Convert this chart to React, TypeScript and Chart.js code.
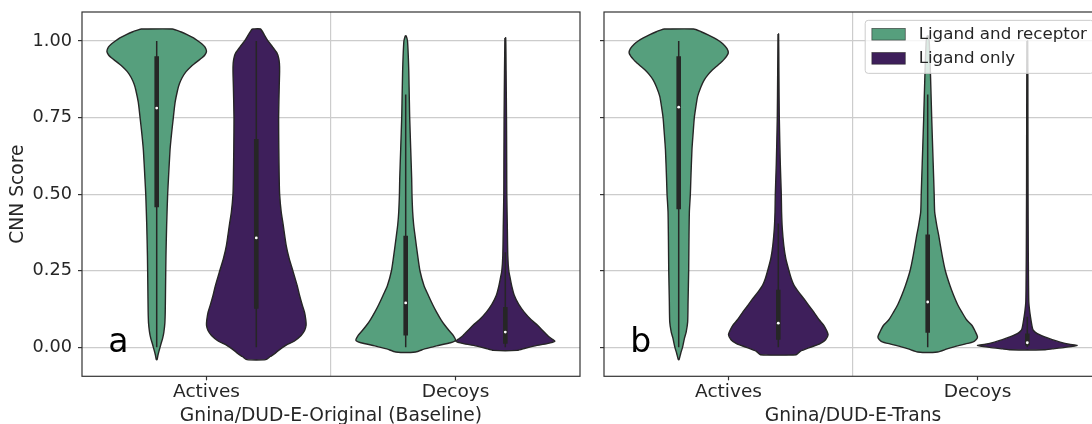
import React, { useEffect, useRef } from 'react';
import { Chart, registerables } from 'chart.js';

Chart.register(...registerables);

// ---------------- data ----------------
const CATEGORIES = ['Actives', 'Decoys'];
const SERIES = ['Ligand and receptor', 'Ligand only'];
const PANEL_TITLES = ['Gnina/DUD-E-Original (Baseline)', 'Gnina/DUD-E-Trans'];
const PANEL_LETTERS = ['a', 'b'];
const Y_TITLE = 'CNN Score';
const Y_TICKS = [0, 0.25, 0.5, 0.75, 1.0];
const Y_MIN = -0.0945;
const Y_MAX = 1.0945;

// violin density profiles: [CNN score, relative density (1 = widest)]
const ORIG_ACT_REC = [
  [1.039, 0.316], [1.03, 0.48], [1.02, 0.62], [1.01, 0.74], [1.0, 0.83], [0.99, 0.91],
  [0.98, 0.97], [0.966, 1.0], [0.955, 0.97], [0.945, 0.91], [0.935, 0.83], [0.925, 0.75],
  [0.915, 0.68], [0.9, 0.59], [0.88, 0.51], [0.86, 0.456], [0.84, 0.42], [0.8, 0.37],
  [0.75, 0.334], [0.7, 0.3], [0.645, 0.268], [0.55, 0.236], [0.5, 0.22], [0.4, 0.2],
  [0.3, 0.186], [0.2, 0.178], [0.12, 0.172], [0.08, 0.164], [0.05, 0.144], [0.03, 0.12],
  [0.01, 0.084], [-0.01, 0.05], [-0.025, 0.026], [-0.04, 0.008],
];
const ORIG_ACT_LIG = [
  [1.039, 0.084], [1.02, 0.16], [1.0, 0.234], [0.98, 0.33], [0.961, 0.414], [0.945, 0.448],
  [0.928, 0.464], [0.9, 0.468], [0.85, 0.46], [0.75, 0.448], [0.65, 0.452], [0.55, 0.46],
  [0.5, 0.468], [0.442, 0.5], [0.4, 0.54], [0.333, 0.6], [0.29, 0.66], [0.25, 0.734],
  [0.2, 0.824], [0.17, 0.868], [0.14, 0.92], [0.115, 0.968], [0.09, 0.994], [0.072, 1.0],
  [0.055, 0.97], [0.039, 0.9], [0.02, 0.76], [0.007, 0.6], [-0.01, 0.448], [-0.021, 0.368],
  [-0.03, 0.28], [-0.04, 0.19],
];
const ORIG_DEC_REC = [
  [1.017, 0.008], [1.0, 0.036], [0.95, 0.052], [0.9, 0.062], [0.8, 0.074], [0.75, 0.08],
  [0.65, 0.1], [0.55, 0.12], [0.5, 0.126], [0.442, 0.14], [0.4, 0.16], [0.366, 0.186],
  [0.3, 0.24], [0.25, 0.286], [0.2, 0.37], [0.17, 0.454], [0.14, 0.54], [0.115, 0.62],
  [0.09, 0.71], [0.072, 0.786], [0.055, 0.87], [0.039, 0.954], [0.023, 1.0], [0.015, 0.9],
  [0.005, 0.62], [-0.005, 0.38], [-0.015, 0.2],
];
const ORIG_DEC_LIG = [
  [1.01, 0.008], [0.9, 0.016], [0.75, 0.024], [0.6, 0.028], [0.5, 0.03], [0.4, 0.04],
  [0.3, 0.05], [0.25, 0.07], [0.224, 0.1], [0.2, 0.13], [0.17, 0.18], [0.14, 0.27],
  [0.115, 0.38], [0.09, 0.52], [0.072, 0.648], [0.055, 0.75], [0.039, 0.848], [0.028, 0.93],
  [0.02, 0.994], [0.012, 0.84], [0.005, 0.6], [-0.003, 0.4], [-0.01, 0.24],
];
const TRANS_ACT_REC = [
  [1.039, 0.3], [1.03, 0.45], [1.02, 0.59], [1.01, 0.71], [1.0, 0.814], [0.99, 0.89],
  [0.975, 0.97], [0.961, 0.996], [0.95, 0.96], [0.94, 0.91], [0.933, 0.87], [0.92, 0.78],
  [0.906, 0.68], [0.89, 0.59], [0.873, 0.514], [0.85, 0.446], [0.819, 0.38], [0.78, 0.34],
  [0.75, 0.314], [0.7, 0.29], [0.645, 0.266], [0.55, 0.244], [0.5, 0.234], [0.442, 0.214],
  [0.35, 0.206], [0.25, 0.2], [0.15, 0.188], [0.083, 0.18], [0.05, 0.15], [0.03, 0.116],
  [0.01, 0.09], [0.0, 0.076], [-0.02, 0.04], [-0.04, 0.008],
];
const TRANS_ACT_LIG = [
  [1.023, 0.006], [0.9, 0.012], [0.75, 0.02], [0.6, 0.04], [0.5, 0.06], [0.442, 0.066],
  [0.388, 0.08], [0.333, 0.11], [0.29, 0.15], [0.25, 0.214], [0.225, 0.26], [0.203, 0.314],
  [0.18, 0.41], [0.159, 0.514], [0.135, 0.62], [0.115, 0.714], [0.09, 0.82], [0.072, 0.914],
  [0.055, 0.97], [0.041, 1.0], [0.025, 0.95], [0.012, 0.84], [0.0, 0.64], [-0.013, 0.44],
  [-0.024, 0.36],
];
const TRANS_DEC_REC = [
  [1.017, 0.008], [1.0, 0.03], [0.9, 0.054], [0.75, 0.08], [0.6, 0.11], [0.5, 0.13],
  [0.442, 0.14], [0.4, 0.18], [0.366, 0.22], [0.3, 0.29], [0.25, 0.354], [0.2, 0.45],
  [0.17, 0.52], [0.14, 0.6], [0.115, 0.686], [0.09, 0.78], [0.072, 0.886], [0.05, 0.96],
  [0.034, 1.0], [0.025, 0.97], [0.017, 0.9], [0.005, 0.6], [-0.005, 0.39], [-0.015, 0.2],
];
const TRANS_DEC_LIG = [
  [1.0, 0.008], [0.75, 0.012], [0.5, 0.015], [0.3, 0.02], [0.2, 0.025], [0.148, 0.03],
  [0.115, 0.05], [0.083, 0.08], [0.065, 0.1], [0.056, 0.12], [0.045, 0.2], [0.034, 0.35],
  [0.025, 0.5], [0.017, 0.66], [0.01, 0.84], [0.006, 1.0], [0.0, 0.76], [-0.005, 0.5],
  [-0.008, 0.34],
];

// inner box stats: [whisker low, q1, median, q3, whisker high]
const ORIG_ACT_REC_BOX = [0, 0.457, 0.781, 0.95, 1.0];
const ORIG_ACT_LIG_BOX = [0, 0.126, 0.357, 0.68, 1.0];
const ORIG_DEC_REC_BOX = [0, 0.039, 0.145, 0.364, 0.825];
const ORIG_DEC_LIG_BOX = [0, 0.012, 0.05, 0.132, 0.31];
const TRANS_ACT_REC_BOX = [0, 0.451, 0.784, 0.95, 1.0];
const TRANS_ACT_LIG_BOX = [0, 0.025, 0.079, 0.188, 0.404];
const TRANS_DEC_REC_BOX = [0, 0.048, 0.148, 0.368, 0.825];
const TRANS_DEC_LIG_BOX = [0, 0.006, 0.015, 0.045, 0.1];

// ---------------- style ----------------
const FAMILY = '"DejaVu Sans", "Liberation Sans", sans-serif';
const TEXT_COLOR = '#262626';
const EDGE_COLOR = '#262626';
const SERIES_COLORS = ['#569f7d', '#3e1f5b'];
const GRID_COLOR = '#cccccc';
const SPINE_COLOR = '#333333';
const CANVAS_H = 440;
const PLOT_TOP = 12;
const PLOT_BOTTOM = 376.3;
const HUE_OFFSET = 0.2;
const HALF_WIDTH = 0.2;

const PANELS = [
  {
    title: PANEL_TITLES[0], letter: PANEL_LETTERS[0], left: 0, width: 600, yWidth: 82, padRight: 20,
    showYLabels: true, legend: false,
    violins: [
      { cat: 0, hue: 0, profile: ORIG_ACT_REC, box: ORIG_ACT_REC_BOX },
      { cat: 0, hue: 1, profile: ORIG_ACT_LIG, box: ORIG_ACT_LIG_BOX },
      { cat: 1, hue: 0, profile: ORIG_DEC_REC, box: ORIG_DEC_REC_BOX },
      { cat: 1, hue: 1, profile: ORIG_DEC_LIG, box: ORIG_DEC_LIG_BOX },
    ],
  },
  {
    title: PANEL_TITLES[1], letter: PANEL_LETTERS[1], left: 600, width: 520, yWidth: 4, padRight: 18,
    showYLabels: false, legend: true,
    violins: [
      { cat: 0, hue: 0, profile: TRANS_ACT_REC, box: TRANS_ACT_REC_BOX },
      { cat: 0, hue: 1, profile: TRANS_ACT_LIG, box: TRANS_ACT_LIG_BOX },
      { cat: 1, hue: 0, profile: TRANS_DEC_REC, box: TRANS_DEC_REC_BOX },
      { cat: 1, hue: 1, profile: TRANS_DEC_LIG, box: TRANS_DEC_LIG_BOX },
    ],
  },
];

function buildDatasets(violins: any[]) {
  const ds: any[] = [];
  violins.forEach((v) => {
    const c = v.cat + (v.hue === 0 ? -HUE_OFFSET : HUE_OFFSET);
    const leftSide = v.profile.map(([y, d]: number[]) => ({ x: c - d * HALF_WIDTH, y }));
    const rightSide = [...v.profile].reverse().map(([y, d]: number[]) => ({ x: c + d * HALF_WIDTH, y }));
    const outline = [...leftSide, ...rightSide, leftSide[0]];
    const [lo, q1, med, q3, hi] = v.box;
    ds.push({
      data: outline, order: 3, borderColor: EDGE_COLOR, borderWidth: 1.4,
      backgroundColor: SERIES_COLORS[v.hue], fill: 'shape', pointRadius: 0,
      tension: 0.2, borderJoinStyle: 'round',
    });
    ds.push({
      data: [{ x: c, y: lo }, { x: c, y: hi }], order: 2, borderColor: EDGE_COLOR,
      borderWidth: 1.5, pointRadius: 0, fill: false, tension: 0,
    });
    ds.push({
      data: [{ x: c, y: q1 }, { x: c, y: q3 }], order: 1, borderColor: EDGE_COLOR,
      borderWidth: 4.6, pointRadius: 0, fill: false, tension: 0, borderCapStyle: 'butt',
    });
    ds.push({
      data: [{ x: c, y: med }], order: 0, showLine: false, pointRadius: 1.4,
      pointBackgroundColor: '#ffffff', pointBorderWidth: 0, pointBorderColor: '#ffffff',
    });
  });
  return ds;
}

const framePlugin = {
  id: 'frame',
  afterDraw(chart: any) {
    const { ctx, chartArea: a } = chart;
    ctx.save();
    ctx.strokeStyle = SPINE_COLOR;
    ctx.lineWidth = 1.2;
    ctx.strokeRect(a.left, a.top, a.right - a.left, a.bottom - a.top);
    ctx.restore();
  },
};

function letterPlugin(letter: string) {
  return {
    id: 'panelLetter',
    afterDraw(chart: any) {
      const { ctx, chartArea: a } = chart;
      ctx.save();
      ctx.font = `33px ${FAMILY}`;
      ctx.fillStyle = '#000000';
      ctx.textBaseline = 'alphabetic';
      ctx.textAlign = 'left';
      ctx.fillText(letter, a.left + 26.3, a.bottom - 24.8);
      ctx.restore();
    },
  };
}

const legendPlugin = {
  id: 'violinLegend',
  afterDraw(chart: any) {
    const { ctx, chartArea: a } = chart;
    const fs = 16.7;
    ctx.save();
    ctx.font = `${fs}px ${FAMILY}`;
    const textW = Math.max(...SERIES.map((s) => ctx.measureText(s).width));
    const pad = 0.4 * fs;
    const handleW = 2 * fs;
    const handleH = 0.7 * fs;
    const gap = 0.8 * fs;
    const right = a.right - 0.5 * fs;
    const top = a.top + 0.5 * fs;
    const w = pad + handleW + gap + textW + pad;
    const h = 53;
    const left = right - w;
    ctx.beginPath();
    ctx.roundRect(left, top, w, h, 3);
    ctx.fillStyle = 'rgba(255,255,255,0.8)';
    ctx.fill();
    ctx.strokeStyle = '#cccccc';
    ctx.lineWidth = 1;
    ctx.stroke();
    SERIES.forEach((s, i) => {
      const cy = top + 13.9 + i * 24.1;
      ctx.fillStyle = SERIES_COLORS[i];
      ctx.fillRect(left + pad, cy - handleH / 2, handleW, handleH);
      ctx.strokeStyle = 'rgba(38,38,38,0.7)';
      ctx.lineWidth = 0.8;
      ctx.strokeRect(left + pad, cy - handleH / 2, handleW, handleH);
      ctx.fillStyle = TEXT_COLOR;
      ctx.textBaseline = 'middle';
      ctx.textAlign = 'left';
      ctx.fillText(s, left + pad + handleW + gap, cy + 0.4);
    });
    ctx.restore();
  },
};

function makeConfig(panel: any) {
  const plugins: any[] = [framePlugin, letterPlugin(panel.letter)];
  if (panel.legend) plugins.push(legendPlugin);
  return {
    type: 'line',
    data: { datasets: buildDatasets(panel.violins) },
    plugins,
    options: {
      animation: false,
      responsive: false,
      devicePixelRatio: 1,
      events: [],
      layout: { padding: { top: PLOT_TOP, right: panel.padRight, left: 0, bottom: 0 } },
      plugins: { legend: { display: false }, tooltip: { enabled: false } },
      scales: {
        x: {
          type: 'linear', position: 'bottom', min: -0.5, max: 1.5,
          afterBuildTicks: (s: any) => { s.ticks = CATEGORIES.map((_, i) => ({ value: i })); },
          ticks: {
            callback: (v: any) => CATEGORIES[v] ?? '',
            font: { family: FAMILY, size: 18.5 }, color: TEXT_COLOR, padding: 1,
            maxRotation: 0, autoSkip: false,
          },
          grid: { display: true, drawOnChartArea: false, drawTicks: true, tickLength: 4, tickColor: SPINE_COLOR, tickWidth: 1.2 },
          border: { display: false },
          title: {
            display: true, text: panel.title, color: TEXT_COLOR,
            font: { family: FAMILY, size: 18.7 }, padding: { top: 0, bottom: 13 },
          },
          afterFit: (s: any) => {
            s.height = CANVAS_H - PLOT_BOTTOM;
            s.paddingLeft = 0;
            s.paddingRight = 0;
          },
        },
        xSep: {
          type: 'linear', position: 'top', min: -0.5, max: 1.5,
          afterBuildTicks: (s: any) => { s.ticks = [{ value: 0.5 }]; },
          ticks: { display: false },
          grid: { display: true, drawOnChartArea: true, drawTicks: false, color: GRID_COLOR, lineWidth: 1.2 },
          border: { display: false },
          afterFit: (s: any) => {
            s.height = 0;
            s.paddingLeft = 0;
            s.paddingRight = 0;
          },
        },
        y: {
          type: 'linear', position: 'left', min: Y_MIN, max: Y_MAX,
          afterBuildTicks: (s: any) => { s.ticks = Y_TICKS.map((v) => ({ value: v })); },
          ticks: {
            callback: (v: any) => (panel.showYLabels ? Number(v).toFixed(2) : ''),
            font: { family: FAMILY, size: 17.7 }, color: TEXT_COLOR, padding: 6,
          },
          grid: { color: GRID_COLOR, lineWidth: 1.2, tickColor: SPINE_COLOR, tickLength: 4, tickWidth: 1.2 },
          border: { display: false },
          title: {
            display: panel.showYLabels, text: Y_TITLE, color: TEXT_COLOR,
            font: { family: FAMILY, size: 18.7 }, padding: { top: 7.2, bottom: 0 },
          },
          afterFit: (s: any) => {
            s.width = panel.yWidth;
            s.paddingTop = 0;
            s.paddingBottom = 0;
          },
        },
      },
    },
  };
}

function Panel({ panel }: { panel: any }) {
  const ref = useRef<HTMLCanvasElement>(null);
  useEffect(() => {
    if (!ref.current) return;
    const chart = new Chart(ref.current, makeConfig(panel) as any);
    return () => chart.destroy();
  }, [panel]);
  return (
    <canvas
      ref={ref}
      width={panel.width}
      height={CANVAS_H}
      style={{ position: 'absolute', left: panel.left, top: 0, width: panel.width, height: CANVAS_H }}
    />
  );
}

export default function App() {
  return (
    <div
      style={{
        position: 'absolute', left: 0, top: 0, width: 1092, height: 424,
        overflow: 'hidden', background: '#ffffff',
      }}
    >
      {PANELS.map((p, i) => (
        <Panel key={i} panel={p} />
      ))}
    </div>
  );
}
